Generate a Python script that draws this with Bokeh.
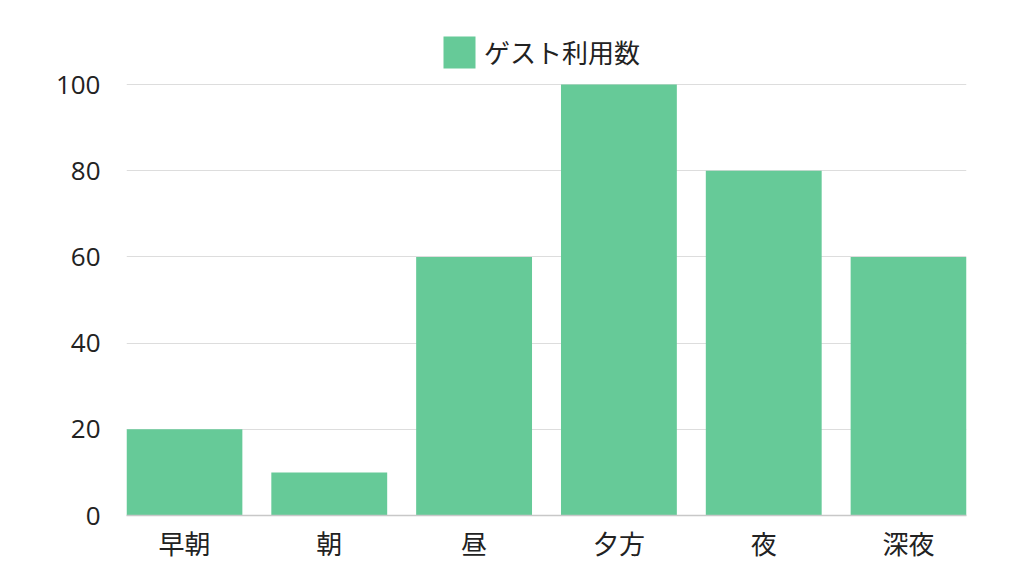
from bokeh.plotting import figure
from bokeh.models import ColumnDataSource, Range1d, FixedTicker, Legend, LegendItem
from bokeh.embed import file_html
from bokeh.resources import INLINE

categories = ["早朝", "朝", "昼", "夕方", "夜", "深夜"]
values = [20, 10, 60, 100, 80, 60]
series_name = "ゲスト利用数"
y_ticks = [0, 20, 40, 60, 80, 100]

FONT = "'Open Sans', 'Noto Sans CJK JP'"
BAR = "#66CA98"

# frame extends above the 100 line to leave room for the legend
FRAME_H = 485
Y_TOP = 100 * FRAME_H / 431

xs = list(range(len(categories)))
src = ColumnDataSource(dict(x=xs, top=values))

p = figure(frame_width=840, frame_height=FRAME_H, output_backend="svg", toolbar_location=None,
           x_range=Range1d(-0.4, len(categories) - 0.6), y_range=Range1d(0, Y_TOP),
           min_border_left=126, min_border_right=42, min_border_top=30, min_border_bottom=45)
p.outline_line_color = None
r = p.vbar(x="x", top="top", width=0.8, source=src, fill_color=BAR, line_color=None)

p.xaxis.ticker = FixedTicker(ticks=xs)
p.xaxis.major_label_overrides = {i: c for i, c in zip(xs, categories)}
p.yaxis.ticker = FixedTicker(ticks=y_ticks)
for ax in (p.xaxis[0], p.yaxis[0]):
    ax.major_label_text_font = FONT
    ax.major_label_text_font_size = "26px"
    ax.major_label_text_color = "#222222"
    ax.major_tick_line_color = None
    ax.minor_tick_line_color = None
p.yaxis.axis_line_color = None
p.xaxis.axis_line_color = "#c8c8c8"
p.xaxis.axis_line_width = 1.5
p.yaxis.major_label_standoff = 20
p.xaxis.major_label_standoff = 4
p.xgrid.grid_line_color = None
p.ygrid.grid_line_color = "#dddddd"
p.ygrid.grid_line_width = 1

legend = Legend(items=[LegendItem(label=series_name, renderers=[r])], location=(313, 443),
                orientation="horizontal", border_line_color=None, background_fill_alpha=0,
                label_text_font=FONT, label_text_font_size="26px", label_text_color="#222222",
                glyph_width=40, glyph_height=40, label_standoff=5, padding=0, margin=0)
p.add_layout(legend, "center")

open("out.html", "w").write(file_html(p, INLINE))
